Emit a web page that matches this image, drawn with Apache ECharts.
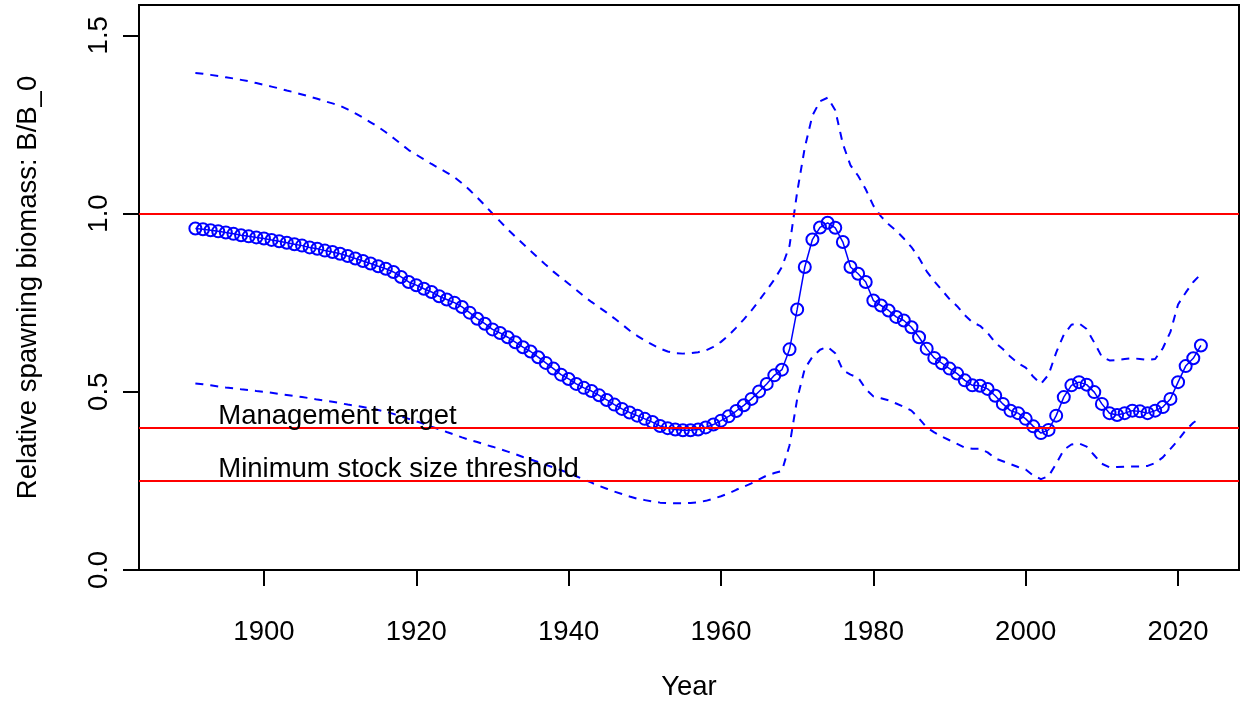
<!DOCTYPE html>
<html>
<head>
<meta charset="utf-8">
<title>Relative spawning biomass</title>
<script src="https://cdn.jsdelivr.net/npm/echarts@6/dist/echarts.min.js"></script>
<style>
  html, body { margin: 0; padding: 0; background: #fff; }
  #chart { width: 1243px; height: 702px; }
</style>
</head>
<body>
<div id="chart"></div>
<script>
// years 1891..2023
var firstYear = 1891;
var biomass = [
  0.958, 0.956, 0.953, 0.950, 0.947, 0.943, 0.939, 0.936, 0.933, 0.930,
  0.926, 0.922, 0.918, 0.914, 0.910, 0.905, 0.901, 0.896, 0.892, 0.887,
  0.881, 0.874, 0.867, 0.860, 0.852, 0.845, 0.836, 0.822, 0.808, 0.799,
  0.789, 0.780, 0.768, 0.759, 0.750, 0.738, 0.722, 0.705, 0.691, 0.675,
  0.665, 0.653, 0.639, 0.625, 0.613, 0.597, 0.581, 0.565, 0.548, 0.536,
  0.522, 0.511, 0.502, 0.490, 0.477, 0.464, 0.452, 0.442, 0.433, 0.424,
  0.415, 0.404, 0.398, 0.394, 0.392, 0.392, 0.394, 0.400, 0.408, 0.419,
  0.431, 0.446, 0.462, 0.480, 0.501, 0.522, 0.546, 0.562, 0.619, 0.731,
  0.850, 0.927, 0.961, 0.974, 0.960, 0.920, 0.850, 0.831, 0.808, 0.756,
  0.742, 0.728, 0.710, 0.700, 0.681, 0.653, 0.621, 0.595, 0.580, 0.565,
  0.551, 0.532, 0.518, 0.517, 0.508, 0.489, 0.466, 0.447, 0.440, 0.424,
  0.403, 0.384, 0.393, 0.433, 0.485, 0.518, 0.527, 0.520, 0.499, 0.466,
  0.440, 0.435, 0.440, 0.447, 0.445, 0.440, 0.447, 0.457, 0.480, 0.527,
  0.572, 0.594, 0.630
];
var upper = [
  1.394, 1.392, 1.389, 1.386, 1.382, 1.379, 1.375, 1.371, 1.366, 1.361,
  1.356, 1.351, 1.345, 1.340, 1.334, 1.328, 1.322, 1.315, 1.309, 1.302,
  1.292, 1.281, 1.269, 1.256, 1.243, 1.228, 1.212, 1.195, 1.178, 1.165,
  1.152, 1.139, 1.127, 1.115, 1.102, 1.085, 1.066, 1.045, 1.023, 1.000,
  0.978, 0.956, 0.935, 0.915, 0.895, 0.876, 0.856, 0.837, 0.820, 0.803,
  0.786, 0.768, 0.752, 0.737, 0.722, 0.706, 0.689, 0.672, 0.657, 0.644,
  0.632, 0.621, 0.613, 0.608, 0.607, 0.608, 0.611, 0.616, 0.626, 0.640,
  0.658, 0.680, 0.703, 0.728, 0.756, 0.785, 0.815, 0.850, 0.910, 1.060,
  1.185, 1.275, 1.315, 1.325, 1.290, 1.195, 1.135, 1.106, 1.068, 1.022,
  0.992, 0.970, 0.952, 0.930, 0.906, 0.875, 0.838, 0.810, 0.785, 0.760,
  0.740, 0.715, 0.695, 0.685, 0.665, 0.638, 0.620, 0.598, 0.580, 0.568,
  0.542, 0.522, 0.548, 0.610, 0.660, 0.688, 0.692, 0.676, 0.638, 0.598,
  0.588, 0.589, 0.592, 0.594, 0.592, 0.589, 0.592, 0.622, 0.668, 0.745,
  0.778, 0.808, 0.830
];
var lower = [
  0.523, 0.521, 0.518, 0.515, 0.512, 0.510, 0.507, 0.505, 0.502, 0.500,
  0.497, 0.494, 0.491, 0.488, 0.485, 0.482, 0.478, 0.475, 0.472, 0.468,
  0.464, 0.461, 0.457, 0.453, 0.449, 0.444, 0.438, 0.431, 0.424, 0.417,
  0.410, 0.402, 0.395, 0.387, 0.380, 0.372, 0.365, 0.359, 0.352, 0.346,
  0.339, 0.332, 0.325, 0.317, 0.310, 0.303, 0.295, 0.288, 0.280, 0.272,
  0.263, 0.254, 0.245, 0.236, 0.228, 0.220, 0.213, 0.206, 0.200, 0.196,
  0.192, 0.189, 0.188, 0.187, 0.187, 0.188, 0.190, 0.194, 0.200, 0.207,
  0.215, 0.225, 0.234, 0.243, 0.254, 0.265, 0.272, 0.278, 0.350, 0.480,
  0.565, 0.598, 0.618, 0.626, 0.608, 0.560, 0.548, 0.540, 0.508, 0.487,
  0.482, 0.476, 0.467, 0.458, 0.447, 0.425, 0.400, 0.386, 0.374, 0.364,
  0.354, 0.343, 0.340, 0.340, 0.330, 0.313, 0.305, 0.297, 0.289, 0.282,
  0.265, 0.255, 0.263, 0.298, 0.337, 0.352, 0.355, 0.346, 0.322, 0.298,
  0.288, 0.289, 0.290, 0.290, 0.290, 0.292, 0.300, 0.316, 0.340, 0.364,
  0.392, 0.413, 0.428
];

var xTicks = [1900, 1920, 1940, 1960, 1980, 2000, 2020];
var yTicks = [0, 0.5, 1.0, 1.5];
var refLines = [1.0, 0.4, 0.25];
var refLabels = ['Management target', 'Minimum stock size threshold'];
var refLabelValues = [0.4, 0.25];
var refLabelYear = 1894;

function withYears(vals) {
  return vals.map(function (v, i) { return [firstYear + i, v]; });
}

var font = "'Liberation Sans', Arial, sans-serif";
var chart = echarts.init(document.getElementById('chart'));

chart.setOption({
  animation: false,
  backgroundColor: '#fff',
  grid: {
    left: 139, right: 4, top: 5, bottom: 132,
    outerBoundsMode: 'none', containLabel: false,
    show: true, borderColor: '#000', borderWidth: 2, backgroundColor: 'transparent'
  },
  xAxis: {
    type: 'value', min: 1883.6, max: 2028,
    name: 'Year', nameLocation: 'middle', nameGap: 103,
    nameTextStyle: { fontFamily: font, fontSize: 27.5, color: '#000' },
    axisLine: { show: false },
    splitLine: { show: false },
    axisTick: { show: true, length: 16, customValues: xTicks, lineStyle: { color: '#000', width: 2 } },
    axisLabel: {
      customValues: xTicks, margin: 48, fontFamily: font, fontSize: 27.5, color: '#000',
      formatter: function (v) { return String(v); }
    }
  },
  yAxis: {
    type: 'value', min: 0, max: 1.585,
    name: 'Relative spawning biomass: B/B_0', nameLocation: 'middle', nameGap: 97,
    nameTextStyle: { fontFamily: font, fontSize: 27.5, color: '#000' },
    axisLine: { show: false },
    splitLine: { show: false },
    axisTick: { show: true, length: 16, customValues: yTicks, lineStyle: { color: '#000', width: 2 } },
    axisLabel: {
      customValues: yTicks, rotate: 90, margin: 26, fontFamily: font, fontSize: 27.5, color: '#000',
      formatter: function (v) { return v.toFixed(1); }
    }
  },
  series: [
    {
      type: 'line', data: withYears(upper), showSymbol: false, silent: true,
      lineStyle: { color: '#0000ff', width: 2, type: [8, 7] }
    },
    {
      type: 'line', data: withYears(lower), showSymbol: false, silent: true,
      lineStyle: { color: '#0000ff', width: 2, type: [8, 7] }
    },
    {
      type: 'line', data: withYears(biomass), silent: true,
      symbol: 'circle', symbolSize: 12, showAllSymbol: true,
      itemStyle: { color: 'rgba(0,0,0,0)', borderColor: '#0000ff', borderWidth: 2 },
      lineStyle: { color: '#0000ff', width: 1.5 },
      markLine: {
        silent: true, symbol: 'none', z: 5,
        label: { show: false },
        lineStyle: { color: '#ff0000', width: 2, type: 'solid' },
        data: refLines.map(function (v) { return { yAxis: v }; })
      }
    },
    {
      type: 'scatter', silent: true, z: 6, symbolSize: 0,
      data: refLabels.map(function (t, i) { return [refLabelYear, refLabelValues[i], t]; }),
      label: {
        show: true, position: [0, 0], align: 'left', verticalAlign: 'bottom', offset: [0, 3],
        fontFamily: font, fontSize: 27.5, color: '#000', opacity: 1,
        textBorderWidth: 0, textBorderColor: 'transparent',
        formatter: function (p) { return p.value[2]; }
      }
    }
  ]
});
</script>
</body>
</html>
